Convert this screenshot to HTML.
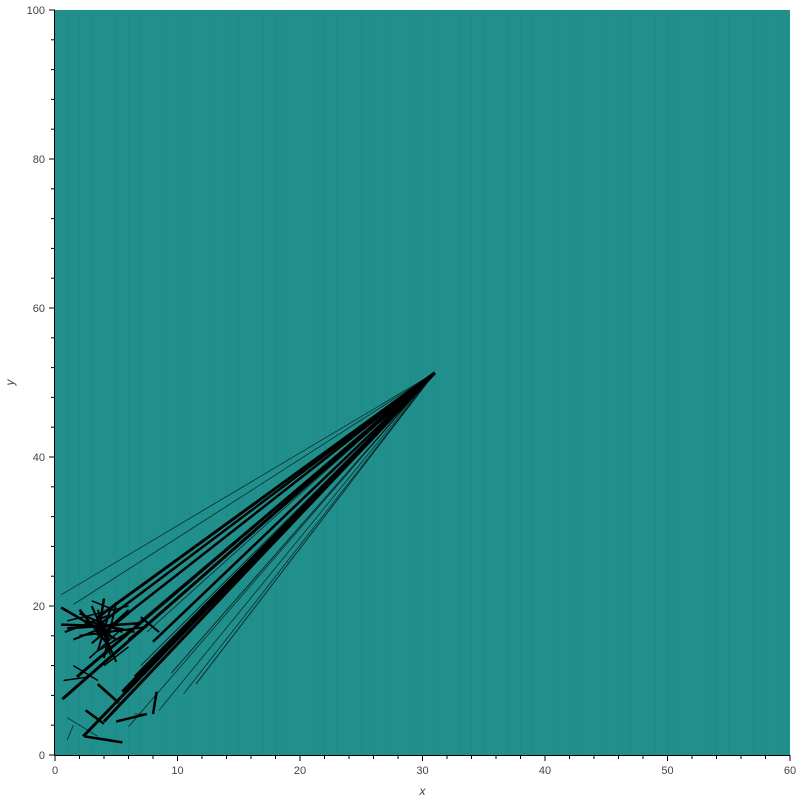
<!DOCTYPE html>
<html><head><meta charset="utf-8"><style>
body{margin:0;background:#fff;}
svg{display:block;font-family:"Liberation Sans",sans-serif;}
</style></head><body>
<svg id="chart" width="800" height="800" viewBox="0 0 800 800"></svg>
<script>
// Data (data units)
const xTicks=[0,10,20,30,40,50,60];
const yTicks=[0,20,40,60,80,100];
const focusX=[31.0];
const focusY=[51.3];
// spokes from focus: end points and widths
const spokeX=[0.5,1.5,3.5,5,6.5,7.5,8,11.5,9.5,10.5,8.5,6,0.6,1.8,2.3,4,5.5,6.5,7,3.2];
const spokeY=[21.5,20.2,18.5,17.8,17.4,16.5,15.2,9.5,11,8.2,6,3.8,7.5,10.5,2.5,4.5,8.5,10.5,12,17];
const spokeW=[0.8,0.8,3,2.5,1,0.8,2.5,1,1,0.8,0.8,0.8,3,3,3,3,3,2.5,1,2.5];
// short segments in cluster: x0,y0,x1,y1
const segX0=[0.5,1,2,3,2.5,4,5,1.5,3.5,6,7,0.8,2.8,4.5,5.5,1,2,3,6.5,0.7,3.5,5.2,2.5,4,1.5,8.3,7.5,5,3.5,2.4,1.5,0.5,4.2,6,3];
const segY0=[19.8,17,19.5,20,18,21,20.5,15.5,14,19,18.5,16.5,13,13.5,16.5,18,16,15,17,10,9.5,7,6,12,12,8.5,5.5,4.5,2.5,2.5,4,17.5,17,15.5,20.7];
const segX1=[5,7,4.5,5,6.5,3.5,4,5,4.5,3,8.5,4.5,5.5,3.5,2,6,7.5,6,3.5,2.8,5.2,3.5,4,6,3.5,8,6.5,7.5,1,5.5,1,4.5,4.2,8,4.8];
const segY1=[15.5,17.7,14.5,12.5,16.5,16,13,17.8,19.5,15,16.5,18.8,17,19.5,19,20,17.2,19.5,14,10.5,7,9.5,4.2,14.5,10,5.5,5.5,5.5,5,1.7,2,17.3,13.5,18.2,19.5];
const segW=[2.5,2.5,2.5,2,2,2.5,2,2,2,2,2,2,1.5,2,2,1.5,2,1.5,2,1.5,2.5,2.5,2.5,1.5,1.5,2.5,1,2.5,1,2.5,1,2.5,2,2,1.5];

const svg=document.getElementById('chart');
const NS='http://www.w3.org/2000/svg';
const L=55,R=790,T=10,B=755;
const sx=v=>L+(v-0)/(60-0)*(R-L);
const sy=v=>B-(v-0)/(100-0)*(B-T);
function mk(tag,attrs,parent){const e=document.createElementNS(NS,tag);for(const k in attrs)e.setAttribute(k,attrs[k]);(parent||svg).appendChild(e);return e;}

const bg=mk('rect',{x:L,y:T,width:R-L,height:B-T,fill:'#21908d'});



const g=mk('g',{});


// faint vertical texture lines
for(let i=1;i<60;i+=1){
  const l=mk('line',{x1:sx(i),x2:sx(i),y1:T,y2:B,stroke:'#1a8583','stroke-width':1,'stroke-opacity':0.35},g);
  
  
}
for(let i=0;i<spokeX.length;i++){
  const l=mk('line',{x1:sx(focusX[0]),y1:sy(focusY[0]),x2:sx(spokeX[i]),y2:sy(spokeY[i]),stroke:'#000','stroke-width':spokeW[i],'stroke-opacity':spokeW[i]<1.5?0.7:1},g);
  
  
}
for(let i=0;i<segX0.length;i++){
  const l=mk('line',{x1:sx(segX0[i]),y1:sy(segY0[i]),x2:sx(segX1[i]),y2:sy(segY1[i]),stroke:'#000','stroke-width':segW[i],'stroke-opacity':segW[i]<1.5?0.6:1},g);
  
  
}

// axes
const ax=mk('g',{stroke:'#000','stroke-width':1});


mk('line',{x1:L,x2:R,y1:B+0.5,y2:B+0.5},ax);
mk('line',{x1:L-0.5,x2:L-0.5,y1:T,y2:B},ax);
for(let v=0;v<=60;v+=2){const x=sx(v);mk('line',{x1:x,x2:x,y1:B,y2:B+(v%10===0?6:4)},ax);}
for(let v=0;v<=100;v+=4){const y=sy(v);mk('line',{x1:L,x2:L-(v%20===0?6:4),y1:y,y2:y},ax);}
xTicks.forEach(v=>{const t=mk('text',{x:sx(v),y:B+19,'text-anchor':'middle','font-size':11,fill:'#444'});t.textContent=v;

});
yTicks.forEach(v=>{const t=mk('text',{x:L-10,y:sy(v)+4,'text-anchor':'end','font-size':11,fill:'#444'});t.textContent=v;

});
const xt=mk('text',{x:(L+R)/2,y:795,'text-anchor':'middle','font-size':12,'font-style':'italic',fill:'#444'});xt.textContent='x';


const yt=mk('text',{x:14,y:(T+B)/2,'text-anchor':'middle','font-size':12,'font-style':'italic',fill:'#444',transform:`rotate(-90 14 ${(T+B)/2})`});yt.textContent='y';


</script>
</body></html>
